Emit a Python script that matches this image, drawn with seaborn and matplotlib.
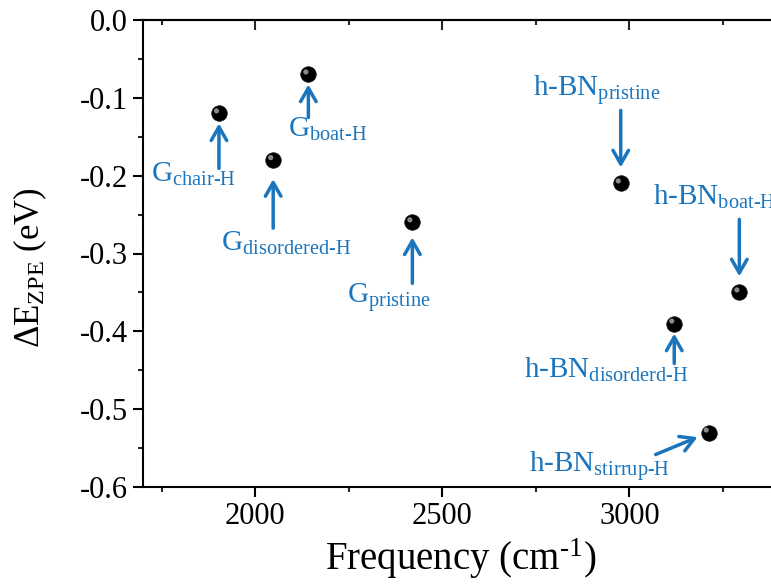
import matplotlib
matplotlib.use("Agg")
import matplotlib.pyplot as plt
import matplotlib.transforms as mtransforms
from matplotlib.ticker import MultipleLocator
import seaborn as sns
import pandas as pd

# ---- data ----
names = ["G_chair-H", "G_boat-H", "G_disordered-H", "G_pristine",
         "h-BN_pristine", "h-BN_boat-H", "h-BN_disorderd-H", "h-BN_stirrup-H"]
frequency = [1903, 2142, 2048, 2420, 2977, 3294, 3120, 3212]
delta_e_zpe = [-0.12, -0.07, -0.18, -0.26, -0.21, -0.35, -0.39, -0.53]
labels = [r"G$_{\text{chair-H}}$", r"G$_{\text{boat-H}}$",
          r"G$_{\text{disordered-H}}$", r"G$_{\text{pristine}}$",
          r"h-BN$_{\text{pristine}}$", r"h-BN$_{\text{boat-H}}$",
          r"h-BN$_{\text{disorderd-H}}$", r"h-BN$_{\text{stirrup-H}}$"]
x_ticks = [2000, 2500, 3000]
y_ticks = [0.0, -0.1, -0.2, -0.3, -0.4, -0.5, -0.6]
y_ticklabels = ["0.0", "-0.1", "-0.2", "-0.3", "-0.4", "-0.5", "-0.6"]

df = pd.DataFrame({"name": names, "freq": frequency, "dE": delta_e_zpe})

# ---- layout (pixel offsets relative to each point) ----
# arrow tail offset (dx, dy), head gap, text offset (dx, dy)
layout = {
    "G_chair-H":        ((0, -55), 10, (-68, -68)),
    "G_boat-H":         ((0, -43), 10, (-20, -62)),
    "G_disordered-H":   ((0, -68), 19, (-52, -91)),
    "G_pristine":       ((0, -61), 15, (-65, -80)),
    "h-BN_pristine":    ((0, 73), 16, (-88, 88)),
    "h-BN_boat-H":      ((0, 73), 16, (-86, 88)),
    "h-BN_disorderd-H": ((0, -40), 10, (-150, -54)),
    "h-BN_stirrup-H":   ((-53, -22), 12, (-180, -39)),
}

sns.set_theme(style="ticks")
plt.rcParams["font.family"] = ["Liberation Serif", "DejaVu Serif"]
plt.rcParams["mathtext.fontset"] = "custom"
plt.rcParams["mathtext.rm"] = "Liberation Serif"
plt.rcParams["mathtext.it"] = "Liberation Serif:italic"
plt.rcParams["mathtext.bf"] = "Liberation Serif:bold"
plt.rcParams["axes.unicode_minus"] = False
plt.rcParams["text.color"] = "black"
plt.rcParams["axes.labelcolor"] = "black"

blue = "#1b75bc"
DPI = 100
fig = plt.figure(figsize=(7.71, 5.88), dpi=DPI)
ax = fig.add_axes([143 / 771, (588 - 487) / 588, (779 - 143) / 771, (487 - 20) / 588])

sns.scatterplot(data=df, x="freq", y="dE", ax=ax, color="black", s=125,
                edgecolor="#111111", linewidth=0.5, zorder=3, legend=False)
hl = ax.transData + mtransforms.ScaledTranslation(-2.5 / DPI, 2.5 / DPI, fig.dpi_scale_trans)
sns.scatterplot(data=df, x="freq", y="dE", ax=ax, color="#9a9a9a", s=14,
                edgecolor="none", linewidth=0, zorder=4, legend=False,
                transform=hl, alpha=0.9)

ax.set_xlim(1700, 3400)
ax.set_ylim(-0.6, 0.0)
ax.set_xticks(x_ticks)
ax.xaxis.set_minor_locator(MultipleLocator(250))
ax.set_yticks(y_ticks)
ax.set_yticklabels(y_ticklabels)
ax.yaxis.set_minor_locator(MultipleLocator(0.05))

for s in ax.spines.values():
    s.set_linewidth(1.5)
    s.set_color("black")
ax.tick_params(which="major", direction="out", length=7, width=1.5, labelsize=22,
               colors="black", pad=4)
ax.tick_params(which="minor", direction="out", length=3.5, width=1.5)

top = ax.secondary_xaxis("top")
top.set_xticks(x_ticks)
top.xaxis.set_minor_locator(MultipleLocator(250))
top.tick_params(which="major", direction="in", length=7, width=1.5, labeltop=False)
top.tick_params(which="minor", direction="in", length=3.5, width=1.5)
top.spines["top"].set_linewidth(1.5)

ax.set_xlabel(r"Frequency (cm$^{\text{-1}}$)", fontsize=28, labelpad=4, color="black")
ax.set_ylabel(r"ΔE$_{\text{ZPE}}$ (eV)", fontsize=25, color="black")
ax.yaxis.set_label_coords(-0.148, 0.47)

px = 72.0 / DPI  # points per pixel
for name, fx, fy, lab in zip(names, frequency, delta_e_zpe, labels):
    (tdx, tdy), gap, (ldx, ldy) = layout[name]
    ax.annotate("", xy=(fx, fy), xytext=(tdx * px, tdy * px),
                textcoords="offset points",
                arrowprops=dict(arrowstyle="->,head_length=0.7,head_width=0.4",
                                color=blue, lw=2.5, shrinkA=0, shrinkB=gap * px,
                                mutation_scale=14))
    ax.annotate(lab, xy=(fx, fy), xytext=(ldx * px, ldy * px),
                textcoords="offset points", ha="left", va="baseline",
                fontsize=21, color=blue)

fig.savefig("out.png", dpi=DPI)
